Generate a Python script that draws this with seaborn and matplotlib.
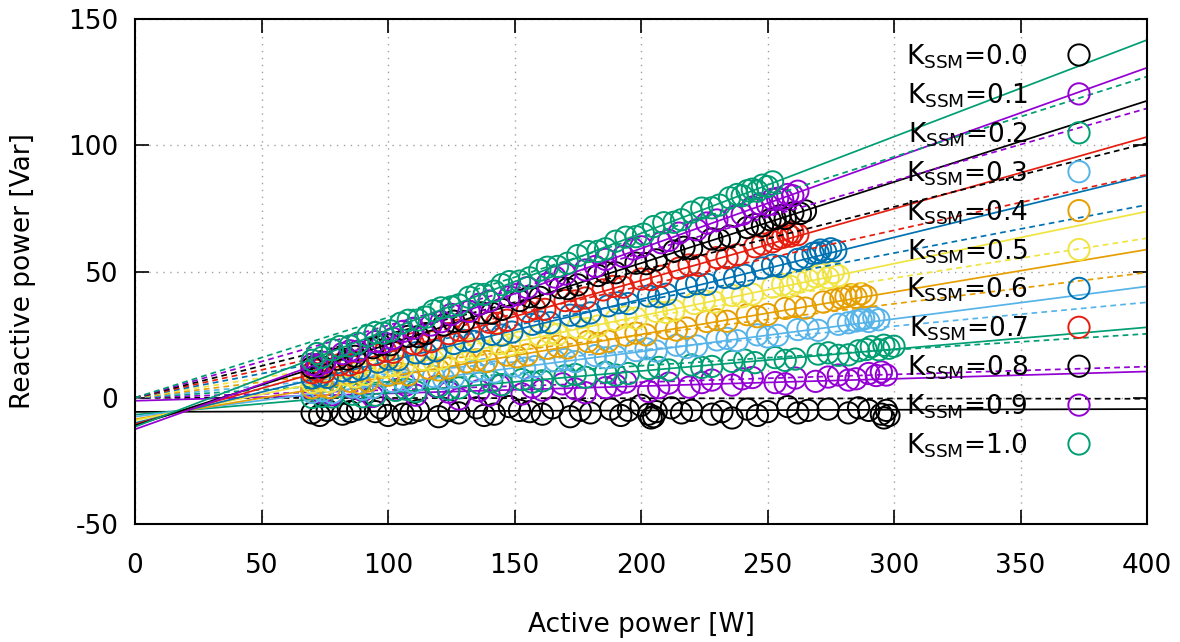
import numpy as np
import pandas as pd
import matplotlib
matplotlib.use("Agg")
import matplotlib.pyplot as plt
import seaborn as sns

# ---------------- data ----------------
k_values = ["0.0", "0.1", "0.2", "0.3", "0.4", "0.5", "0.6", "0.7", "0.8", "0.9", "1.0"]
colors = ["#000000", "#9400d3", "#009e73", "#56b4e9", "#e69f00", "#f0e442",
          "#0072b2", "#e51e10", "#000000", "#9400d3", "#009e73"]

# measured points (active power P [W], reactive power Q [Var])
p00 = [70, 76, 82, 88, 95, 100, 106, 112, 120, 128, 135, 142, 148, 156, 165, 172, 180, 188, 195, 200,
       203, 205, 206, 212, 220, 228, 236, 242, 250, 258, 266, 274, 282, 290, 295, 296, 297, 298,
       73, 85, 97, 109, 124, 138, 152, 161, 176, 192, 204, 216, 232, 246, 262, 286]
q00 = [-6.0, -5.0, -6.5, -4.5, -5.5, -7.0, -6.5, -5.0, -7.5, -6.0, -4.0, -6.5, -3.5, -5.5, -4.0, -7.5,
       -6.0, -4.5, -5.0, -3.0, -6.5, -7.5, -5.5, -4.0, -5.0, -6.5, -8.0, -4.5, -5.5, -3.5, -5.0, -4.5,
       -6.0, -5.0, -6.5, -8.0, -5.0, -7.0,
       -7.0, -5.5, -4.0, -6.0, -5.0, -7.0, -5.0, -6.5, -5.0, -7.0, -8.0, -6.0, -5.5, -7.0, -6.0, -4.0]

p01 = [70, 78, 86, 94, 103, 111, 119, 128, 136, 144, 153, 161, 169, 178, 186, 194, 203, 211, 219, 228,
       236, 244, 253, 261, 269, 278, 285, 290, 293, 295, 297,
       74, 90, 107, 124, 140, 157, 174, 190, 207, 224, 240, 257, 274, 282]
q01 = [3.5, 1.2, 4.0, 0.5, 3.2, 1.0, 4.5, -0.5, 2.8, 4.8, 1.5, 3.0, 5.5, 2.0, 4.0, 6.2, 2.5, 5.8, 4.2,
       7.0, 5.0, 8.0, 6.0, 7.8, 6.5, 9.0, 7.5, 9.6, 8.8, 10.2, 9.0,
       2.0, 2.8, 5.0, 2.2, 1.0, 4.2, 3.5, 5.0, 4.0, 6.0, 7.5, 5.5, 8.2, 7.0]

p02 = [70, 78, 86, 95, 103, 111, 120, 128, 136, 145, 153, 161, 170, 178, 186, 195, 203, 211, 220, 228,
       236, 245, 253, 261, 270, 278, 286, 291, 294, 296, 298, 300,
       74, 90, 107, 124, 141, 157, 174, 190, 207, 224, 241, 257, 274, 282, 289]
q02 = [0.1, 0.3, 1.4, 1.0, 2.9, 2.4, 4.4, 3.9, 5.8, 5.2, 7.2, 6.7, 8.7, 8.1, 10.1, 9.6, 11.6, 11.0,
       13.0, 12.4, 14.4, 13.9, 15.9, 15.3, 17.3, 16.8, 18.6, 20.2, 19.0, 20.8, 19.6, 20.4,
       0.5, 0.4, 3.4, 3.3, 6.3, 6.2, 9.2, 9.0, 12.0, 12.0, 14.9, 14.8, 17.8, 17.0, 19.1]

p03 = [70, 78, 86, 94, 102, 110, 118, 126, 134, 142, 150, 158, 166, 174, 182, 190, 198, 206, 214, 222,
       230, 238, 246, 254, 262, 270, 278, 285, 288, 290, 292, 294,
       74, 90, 106, 122, 138, 154, 170, 186, 202, 218, 234, 250, 266, 282, 287]
q03 = [2.1, 2.0, 4.3, 4.0, 6.4, 6.1, 8.4, 8.2, 10.5, 10.2, 12.6, 12.3, 14.6, 14.3, 16.7, 16.4, 18.7,
       18.5, 20.8, 20.5, 22.9, 22.6, 24.9, 24.7, 27.0, 26.7, 29.1, 30.4, 31.5, 30.2, 31.8, 30.9,
       2.8, 3.4, 7.0, 7.5, 11.1, 11.7, 15.2, 15.8, 19.4, 19.9, 23.5, 24.1, 27.6, 29.7, 30.8]

p04 = [70, 77, 85, 92, 100, 108, 116, 124, 131, 139, 147, 155, 163, 171, 179, 187, 194, 202, 210, 218,
       226, 234, 242, 250, 257, 265, 272, 279, 283, 285, 287, 289,
       74, 89, 104, 120, 135, 151, 167, 183, 198, 214, 230, 246, 261, 276, 281]
q04 = [3.9, 4.0, 6.5, 6.6, 8.9, 9.1, 11.7, 11.8, 14.2, 14.4, 16.9, 17.0, 19.6, 19.7, 22.3, 22.4, 24.8,
       24.9, 27.5, 27.6, 30.2, 30.3, 32.9, 33.0, 35.4, 35.5, 37.9, 39.5, 40.8, 39.8, 41.2, 40.2,
       4.7, 5.8, 9.8, 11.0, 15.0, 16.2, 20.4, 21.5, 25.6, 26.8, 30.9, 32.1, 36.1, 38.7, 40.0]

p05 = [70, 77, 84, 91, 99, 106, 114, 121, 129, 137, 144, 152, 160, 167, 175, 183, 190, 198, 206, 213,
       221, 229, 236, 244, 252, 259, 266, 271, 274, 276, 278,
       73, 87, 102, 118, 133, 148, 164, 179, 194, 210, 225, 240, 256, 262, 269]
q05 = [6.1, 6.4, 9.0, 9.3, 12.1, 12.4, 15.2, 15.5, 18.3, 18.9, 21.4, 22.0, 24.7, 25.1, 27.8, 28.4,
       30.9, 31.5, 34.2, 34.6, 37.3, 37.9, 40.5, 41.0, 43.8, 44.1, 46.7, 48.9, 47.5, 49.6, 48.3,
       6.9, 8.3, 12.9, 14.7, 19.3, 20.9, 25.7, 27.4, 32.0, 33.8, 38.4, 40.0, 44.8, 46.0, 47.9]

p06 = [70, 76, 82, 89, 96, 104, 111, 119, 126, 134, 141, 149, 157, 164, 172, 180, 187, 195, 203, 210,
       218, 226, 233, 241, 248, 255, 262, 268, 271, 273, 275, 277,
       73, 86, 100, 115, 130, 145, 160, 176, 191, 207, 222, 237, 252, 265, 270]
q06 = [7.8, 8.1, 10.7, 11.3, 14.1, 15.0, 17.8, 18.6, 21.5, 22.3, 25.1, 26.0, 29.1, 29.7, 32.7, 33.6,
       36.4, 37.3, 40.3, 41.0, 44.0, 44.9, 47.7, 48.5, 51.4, 52.0, 54.8, 57.2, 58.5, 57.8, 59.0, 58.2,
       8.7, 10.4, 15.3, 17.5, 22.7, 24.8, 30.0, 32.4, 37.6, 40.0, 45.2, 47.4, 52.5, 55.7, 57.4]

p07 = [70, 75, 81, 88, 95, 102, 110, 117, 124, 132, 140, 147, 155, 162, 170, 178, 185, 193, 200, 208,
       215, 223, 230, 238, 245, 252, 256, 258, 260, 262,
       72, 85, 99, 113, 128, 143, 158, 174, 189, 204, 219, 234, 248, 254, 259]
q07 = [9.9, 10.2, 13.1, 14.0, 17.1, 18.0, 21.4, 22.2, 25.4, 26.5, 29.9, 30.7, 34.2, 35.0, 38.5, 39.5,
       42.7, 43.8, 47.0, 48.1, 51.3, 52.4, 55.5, 56.6, 59.8, 61.8, 63.5, 64.8, 65.5, 64.6,
       10.8, 13.0, 18.5, 20.9, 26.7, 29.5, 35.3, 38.3, 44.1, 46.8, 52.6, 55.4, 60.9, 63.0, 64.0]

p08 = [70, 74, 80, 87, 94, 101, 108, 115, 122, 130, 137, 145, 152, 160, 168, 175, 183, 190, 198, 206,
       213, 220, 228, 235, 242, 248, 253, 257, 260, 263, 265,
       72, 84, 97, 112, 126, 141, 156, 171, 186, 202, 217, 231, 245, 251, 255]
q08 = [12.0, 12.2, 15.3, 16.4, 19.8, 21.0, 24.3, 25.4, 28.8, 30.2, 33.6, 35.0, 38.5, 39.8, 43.6, 44.7,
       48.4, 49.5, 53.3, 54.6, 58.1, 59.1, 62.9, 64.0, 67.4, 68.1, 70.9, 71.0, 73.2, 73.0, 74.0,
       13.0, 15.3, 21.0, 24.2, 30.3, 33.5, 40.0, 43.2, 49.6, 53.1, 59.6, 62.5, 68.6, 70.5, 72.1]

p09 = [70, 75, 82, 88, 95, 102, 110, 117, 125, 132, 140, 148, 155, 163, 170, 178, 186, 193, 200, 208,
       215, 222, 230, 237, 244, 250, 254, 256, 258, 260, 262,
       72, 85, 98, 106, 121, 136, 151, 166, 182, 197, 211, 226, 240, 247, 252]
q09 = [13.2, 14.0, 17.5, 18.4, 22.2, 23.5, 27.5, 28.8, 33.0, 34.2, 38.3, 40.0, 43.6, 45.2, 49.0, 50.6,
       54.8, 56.0, 59.8, 61.4, 65.2, 66.5, 70.4, 71.8, 75.5, 76.4, 79.0, 78.5, 80.5, 80.0, 81.8,
       12.6, 18.6, 21.9, 26.3, 30.1, 37.0, 40.9, 47.8, 52.0, 58.9, 62.3, 69.2, 72.6, 76.8, 78.6]

p10 = [70, 72, 78, 85, 92, 98, 105, 112, 118, 125, 132, 138, 145, 152, 160, 167, 175, 183, 190, 198,
       205, 213, 220, 228, 235, 240, 244, 246, 248, 250, 252,
       74, 81, 88, 95, 101, 108, 115, 121, 128, 135, 142, 148, 156, 163, 171, 179, 186, 194, 201, 209,
       216, 224, 231, 238, 242]
q10 = [14.8, 17.5, 19.0, 20.5, 24.5, 25.6, 29.5, 30.8, 34.5, 36.0, 39.8, 40.9, 44.8, 46.2, 50.5, 52.0,
       56.3, 58.0, 62.0, 63.8, 67.8, 69.5, 73.5, 75.2, 79.2, 80.0, 82.6, 81.8, 84.2, 83.6, 85.5,
       16.0, 20.3, 21.6, 25.8, 26.5, 30.7, 31.9, 35.6, 36.8, 41.0, 42.2, 46.0, 47.5, 51.7, 53.3, 57.9,
       59.0, 63.6, 64.8, 69.3, 70.5, 75.1, 76.3, 80.5, 82.0]

p_series = [p00, p01, p02, p03, p04, p05, p06, p07, p08, p09, p10]
q_series = [q00, q01, q02, q03, q04, q05, q06, q07, q08, q09, q10]

# linear fit Q = a*P + b (solid) and fit through origin Q = c*P (dashed)
fit_slope = [0.0028, 0.029, 0.0865, 0.129, 0.168, 0.207, 0.245, 0.2845, 0.3215, 0.358, 0.383]
fit_intercept = [-5.6, -1.2, -6.7, -7.5, -8.5, -9.0, -10.0, -10.5, -11.0, -12.5, -11.5]
origin_slope = [-0.001, 0.0308, 0.0633, 0.0945, 0.124, 0.158, 0.191, 0.221, 0.252, 0.2865, 0.318]

x_ticks = [0, 50, 100, 150, 200, 250, 300, 350, 400]
y_ticks = [-50, 0, 50, 100, 150]

# ---------------- style ----------------
sns.set_theme(style="ticks")
plt.rcParams["font.family"] = ["DejaVu Sans"]
plt.rcParams["axes.unicode_minus"] = False
for key in ["text.color", "axes.labelcolor", "xtick.color", "ytick.color", "axes.edgecolor"]:
    plt.rcParams[key] = "black"
FS = 19

fig = plt.figure(figsize=(11.8, 6.42), dpi=100)
ax = fig.add_axes([135 / 1180, 1 - 524 / 642, (1147 - 135) / 1180, (524 - 19) / 642])

x_line = np.array([x_ticks[0], x_ticks[-1]], dtype=float)
dash = (0, (3.3, 2.4))
MS = 235

for i in range(len(k_values)):
    col = colors[i]
    z = 3 + i * 0.01
    df = pd.DataFrame({"P": p_series[i], "Q": q_series[i]})
    sns.scatterplot(data=df, x="P", y="Q", ax=ax, marker="o", s=MS,
                    facecolors="none", edgecolor=col, linewidth=1.4,
                    zorder=z, legend=False)
    ax.plot(x_line, fit_slope[i] * x_line + fit_intercept[i], color=col, lw=1.25,
            zorder=z + 0.003, solid_capstyle="butt")
    ax.plot(x_line, origin_slope[i] * x_line, color=col, lw=1.25, linestyle=dash,
            zorder=z + 0.006)

ax.set_xlim(x_ticks[0], x_ticks[-1])
ax.set_ylim(y_ticks[0], y_ticks[-1])
ax.set_xticks(x_ticks)
ax.set_yticks(y_ticks)
ax.set_xticklabels([str(v) for v in x_ticks])
ax.set_yticklabels([str(v) for v in y_ticks])

ax.grid(True, color="#a0a0a0", linestyle=(0, (1, 4)), linewidth=1.0, zorder=0)
ax.set_axisbelow(True)
for sp in ax.spines.values():
    sp.set_visible(True)
    sp.set_linewidth(1.5)
    sp.set_color("black")
    sp.set_zorder(10)

ax.tick_params(axis="both", which="major", direction="in", length=10, width=1.2,
               top=True, right=True, colors="black", labelsize=FS)
ax.tick_params(axis="x", pad=21)
ax.tick_params(axis="y", pad=12)

ax.set_xlabel("Active power [W]", fontsize=FS, labelpad=24)
ax.set_ylabel("Reactive power [Var]", fontsize=FS, labelpad=23)

# key (gnuplot style, top right inside)
for i, k in enumerate(k_values):
    y_base = 64.5 + 38.9 * i
    ya = (524 - y_base) / (524 - 19)
    ax.text((1028 - 135) / 1012, ya, r"K$_{\mathregular{SSM}}$=" + k, transform=ax.transAxes,
            ha="right", va="baseline", fontsize=FS, color="black", zorder=20)
    ym = (524 - (y_base - 9.5)) / (524 - 19)
    ax.scatter([(1079 - 135) / 1012], [ym], transform=ax.transAxes, s=MS, marker="o",
               facecolors="none", edgecolors=colors[i], linewidths=1.4, zorder=20, clip_on=False)

fig.savefig("out.png", dpi=100)
